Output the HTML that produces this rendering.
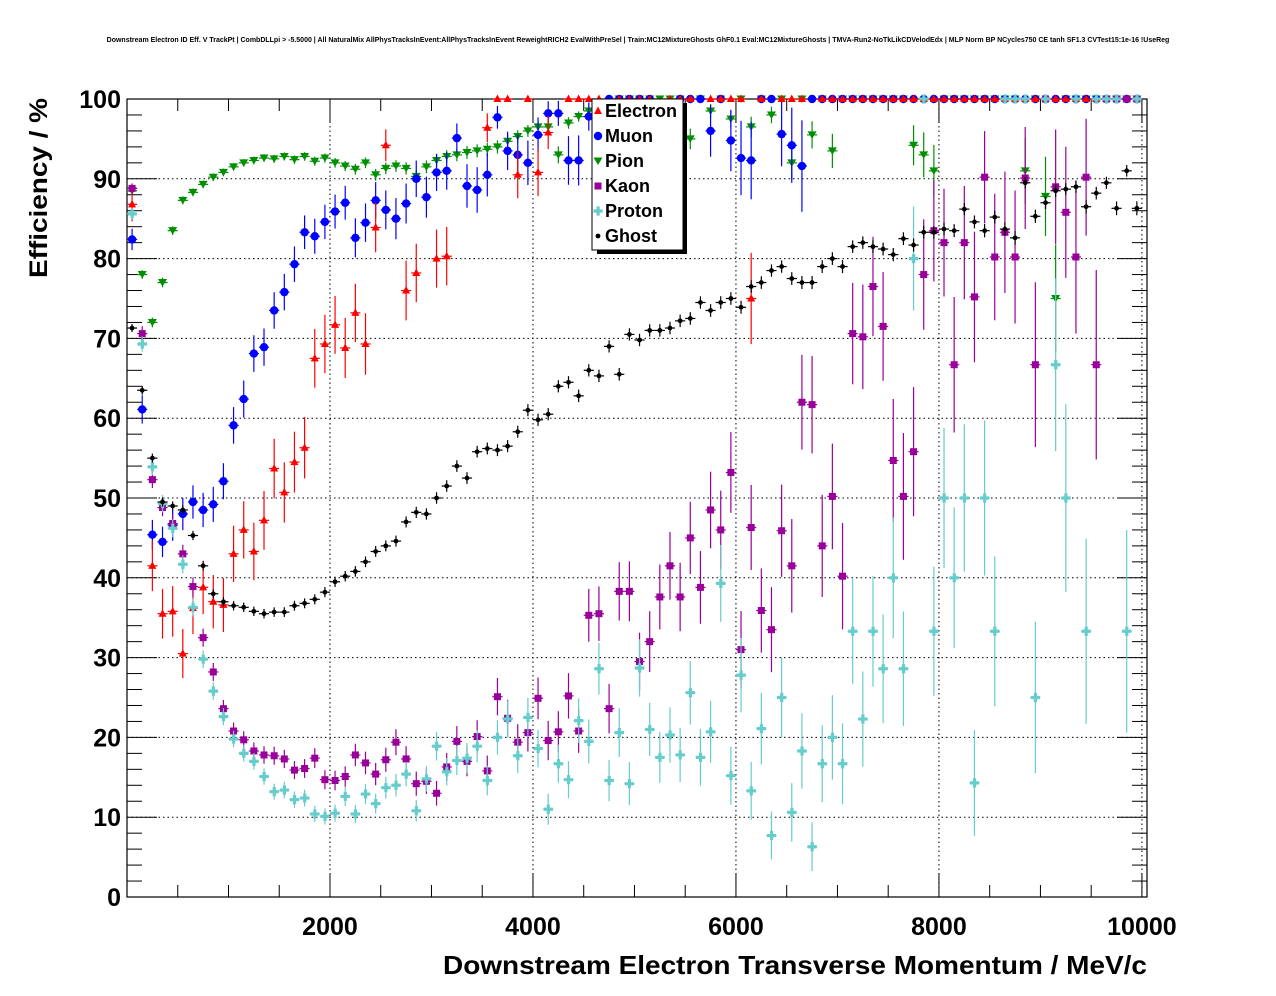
<!DOCTYPE html>
<html><head><meta charset="utf-8"><style>
html,body{margin:0;padding:0;background:#fff}
svg{display:block;font-family:"Liberation Sans",sans-serif}
</style></head><body>
<svg id="c" width="1276" height="996" viewBox="0 0 1276 996" xmlns="http://www.w3.org/2000/svg">
<text x="638" y="42" font-size="7" font-weight="bold" text-anchor="middle">Downstream Electron ID Eff. V TrackPt | CombDLLpi &gt; -5.5000 | All NaturalMix AllPhysTracksInEvent:AllPhysTracksInEvent ReweightRICH2 EvalWithPreSel | Train:MC12MixtureGhosts GhF0.1 Eval:MC12MixtureGhosts | TMVA-Run2-NoTkLikCDVelodEdx | MLP Norm BP NCycles750 CE tanh SF1.3 CVTest15:1e-16 !UseReg</text>
<g id="grid"></g>
<g id="axes"></g>
<g id="marks"></g>
<text x="47" y="188" font-size="25" font-weight="bold" text-anchor="middle" transform="rotate(-90 47 188)" textLength="180" lengthAdjust="spacingAndGlyphs">Efficiency / %</text>
<text x="443" y="974" font-size="26" font-weight="bold" textLength="704" lengthAdjust="spacingAndGlyphs">Downstream Electron Transverse Momentum / MeV/c</text>
<g id="legend"></g>
</svg>
<script>
const binCenters = Array.from({length:100},(_,i)=>50+100*i);
const xTicks = [2000,4000,6000,8000,10000];
const yTicks = [0,10,20,30,40,50,60,70,80,90,100];
const seriesNames = ["Electron","Muon","Pion","Kaon","Proton","Ghost"];
const N=null;
const electron = [86.8,N,41.5,35.5,35.8,30.5,36.2,38.8,37,36.6,43,46,43.3,47.2,53.7,50.7,54.5,56.3,67.5,69.3,71.7,68.8,73.2,69.3,83.9,94.2,N,76,78.2,N,80,80.3,N,N,N,96.4,100,100,90.5,100,90.8,95.8,N,100,100,100,100,N,100,100,100,100,N,100,100,100,N,100,100,100,100,75,100,N,100,100,100,N,100,100,100,100,100,100,100,100,100,100,100,100,100,100,100,100,100,100,100,100,100,100,100,100,100,100,100,100,100,100,100,100];
const muon = [82.4,61.1,45.4,44.5,46.6,48,49.5,48.5,49.2,52.1,59.1,62.4,68.1,68.9,73.5,75.8,79.3,83.3,82.8,84.6,85.9,87,82.6,84.5,87.3,86.1,85,86.9,90,87.7,90.8,91,95.1,89.1,88.6,90.5,97.7,93.5,93,92,95.5,98.2,98.2,92.3,92.3,97.8,98.5,100,100,100,100,100,93.5,95,100,100,100,96,100,94.8,92.6,92.3,100,100,95.6,94.2,91.6,100,100,100,100,100,100,100,100,100,100,100,100,100,100,100,100,100,100,100,100,100,100,100,100,100,100,100,100,100,100,100,100,100];
const pion = [88.5,78,72,77,83.5,87.3,88.3,89.3,90.2,90.8,91.5,92,92.3,92.6,92.5,92.8,92.4,92.8,92.2,92.6,92,91.6,91.2,92,90.5,91.3,91.6,91.3,90.3,91.5,92.3,92.8,93,93.3,93.5,93.7,94,94.7,95.3,96,96.5,96.5,93,97,97.8,98.5,98.8,99.5,100,100,100,100,100,100,100,95,100,98.5,100,97.5,100,96.5,100,98,100,92,100,95.5,100,93.5,100,100,100,100,100,100,100,94.2,93,91,100,100,100,100,100,100,100,100,91,100,87.8,75,100,100,100,100,100,100,100,100];
const kaon = [88.8,70.6,52.3,48.8,46.8,43,38.9,32.5,28.2,23.6,20.8,19.7,18.3,17.8,17.7,17.3,15.9,16.1,17.4,14.7,14.6,15.1,17.8,16.8,15.4,17.2,19.4,17.3,14.2,14.5,13,16.3,19.5,17,20.1,15.8,25.1,22.4,19.4,20.6,24.9,19.6,20.7,25.2,20.8,35.3,35.5,23.6,38.3,38.3,29.5,32,37.6,41.5,37.6,45,38.8,48.5,46,53.2,31,46.3,35.9,33.5,45.9,41.5,62,61.7,44,50.2,40.2,70.6,70.2,76.5,71.5,54.7,50.2,55.8,78,83.5,82,66.7,82,75.2,90.2,80.2,83.3,80.2,90.1,66.7,100,89,85.8,80.2,90.2,66.7,100,100,100,100];
const proton = [85.6,69.3,53.9,49.3,46.2,41.7,36.3,29.8,25.8,22.6,19.8,18,17,15.1,13.2,13.4,12.2,12.4,10.4,10.1,10.5,12.6,10.4,12.9,11.7,13.7,14,15.4,10.8,14.8,18.9,15.7,17.1,17.4,18.9,14.6,20,22.3,17.7,22.5,18.6,11,16.7,14.7,22.1,19.5,28.6,14.6,20.6,14.2,28.7,21,17.5,20.3,17.8,25.6,17.5,20.7,39.3,15.2,27.8,13.3,21.1,7.7,25,10.6,18.3,6.3,16.7,20,16.7,33.3,22.3,33.3,28.6,40,28.6,80,100,33.3,50,40,50,14.3,50,33.3,100,100,100,25,100,66.7,50,100,33.3,100,100,100,33.3,100];
const ghost = [71.3,63.5,55,49.5,49,48.5,45.3,41.5,38,37,36.5,36.3,35.8,35.5,35.7,35.7,36.5,36.8,37.3,38.2,39.5,40.2,40.8,42,43.3,44,44.6,47,48.2,48,50,51.5,54,52.5,55.8,56.2,56,56.5,58.3,61,59.8,60.5,64,64.5,62.8,66,65.3,69,65.5,70.5,69.8,71,71,71.3,72.2,72.5,74.5,73.5,74.5,75,73.9,76.5,77,78.5,79,77.5,77,77,79,80,79,81.5,82,81.5,81.2,80.5,82.5,81.7,83.3,83.3,83.7,83.5,86.2,84.6,83.5,85.2,83.7,82.6,89.5,85.3,87,88.5,88.7,89,86.5,88.2,89.5,86.3,91,86.3];

const X0=127,X1=1147,Y0=897,Y1=99,XMAX=10050;
const sx=v=>X0+(v/XMAX)*(X1-X0);
const sy=v=>Y0-(v/100)*(Y0-Y1);
const NS="http://www.w3.org/2000/svg";
function mk(tag,attrs,parent){const e=document.createElementNS(NS,tag);for(const k in attrs)e.setAttribute(k,attrs[k]);parent.appendChild(e);return e;}
const grid=document.getElementById('grid'),axes=document.getElementById('axes'),marks=document.getElementById('marks'),legend=document.getElementById('legend');

let fr=mk('rect',{x:X0,y:Y1,width:X1-X0,height:Y0-Y1,fill:'none',stroke:'#000','stroke-width':1.2},axes);


xTicks.forEach(t=>{const g=mk('line',{x1:sx(t),x2:sx(t),y1:Y1,y2:Y0,stroke:'#000','stroke-dasharray':'1.5,3','stroke-width':1},grid);

});
yTicks.forEach(t=>{const g=mk('line',{x1:X0,x2:X1,y1:sy(t),y2:sy(t),stroke:'#000','stroke-dasharray':'1.5,3','stroke-width':1},grid);

});
for(let v=0;v<=100;v+=2){const maj=v%10===0,L=maj?30:15;
mk('line',{x1:X0,x2:X0+L,y1:sy(v),y2:sy(v),stroke:'#000'},axes);
mk('line',{x1:X1,x2:X1-L,y1:sy(v),y2:sy(v),stroke:'#000'},axes);}
for(let v=500;v<=10000;v+=500){const maj=v%2000===0,L=maj?24:12;
mk('line',{x1:sx(v),x2:sx(v),y1:Y0,y2:Y0-L,stroke:'#000'},axes);
mk('line',{x1:sx(v),x2:sx(v),y1:Y1,y2:Y1+L,stroke:'#000'},axes);}
yTicks.forEach(t=>{const e=mk('text',{x:121,y:sy(t)+9,'font-size':25,'font-weight':'bold','text-anchor':'end'},axes);e.textContent=t;

});
xTicks.forEach(t=>{const e=mk('text',{x:sx(t),y:935,'font-size':25,'font-weight':'bold','text-anchor':'middle'},axes);e.textContent=t;

});

const colors=["#ff0000","#0000ff","#008f00","#990099","#66cccc","#000000"];
const shapes=["tri","circ","tdown","sq","cross","dot"];
const scales=[250,800,6000,2500,2500,8000];
const decay=[40,18,18,18,18,60];
function marker(sh,x,y,c,p){
 if(sh==='tri')return mk('polygon',{points:`${x},${y-4.5} ${x-4},${y+3} ${x+4},${y+3}`,fill:c},p);
 if(sh==='tdown')return mk('polygon',{points:`${x-4.5},${y-3.5} ${x+4.5},${y-3.5} ${x},${y+4}`,fill:c},p);
 if(sh==='circ')return mk('circle',{cx:x,cy:y,r:4.2,fill:c},p);
 if(sh==='sq')return mk('rect',{x:x-3.5,y:y-3.5,width:7,height:7,fill:c},p);
 if(sh==='dot')return mk('circle',{cx:x,cy:y,r:2.4,fill:c},p);
 return mk('path',{d:`M${x-4.5},${y-1.6}h3v-3h3.2v3h3v3.2h-3v3h-3.2v-3h-3z`,fill:c},p);
}
const all=[electron,muon,pion,kaon,proton,ghost];
[2,1,0,3,4,5].forEach(s=>{
 const g=mk('g',{},marks);
 
 
 all[s].forEach((v,i)=>{
  if(v===null)return;
  const x=sx(binCenters[i]),y=sy(v);
  const n=scales[s]*Math.exp(-i/decay[s])+3;
  const q=Math.min(Math.max(v/100,0.02),0.98);
  const err=v>=100?0:100*Math.sqrt(q*(1-q)/n);
  mk('line',{x1:x,x2:x,y1:Math.max(Y1,sy(Math.min(100,v+err))),y2:Math.min(Y0,sy(Math.max(0,v-err))),stroke:colors[s],'stroke-width':1.2},g);
  mk('line',{x1:sx(binCenters[i]-50),x2:sx(binCenters[i]+50),y1:y,y2:y,stroke:colors[s],'stroke-width':1.2},g);
  const m=marker(shapes[s],x,y,colors[s],g);
  
  
 });
});
mk('rect',{x:597,y:103,width:90,height:151,fill:'#000'},legend);
const lb=mk('rect',{x:592,y:99,width:91,height:151,fill:'#fff',stroke:'#000','stroke-width':1},legend);


seriesNames.forEach((n,i)=>{
 const y=111+i*25;
 const g=mk('g',{},legend);
 
 
 marker(shapes[i],598,y,colors[i],g);
 const t=mk('text',{x:605,y:y+6,'font-size':18,'font-weight':'bold'},g);t.textContent=n;
});
</script>
</body></html>
